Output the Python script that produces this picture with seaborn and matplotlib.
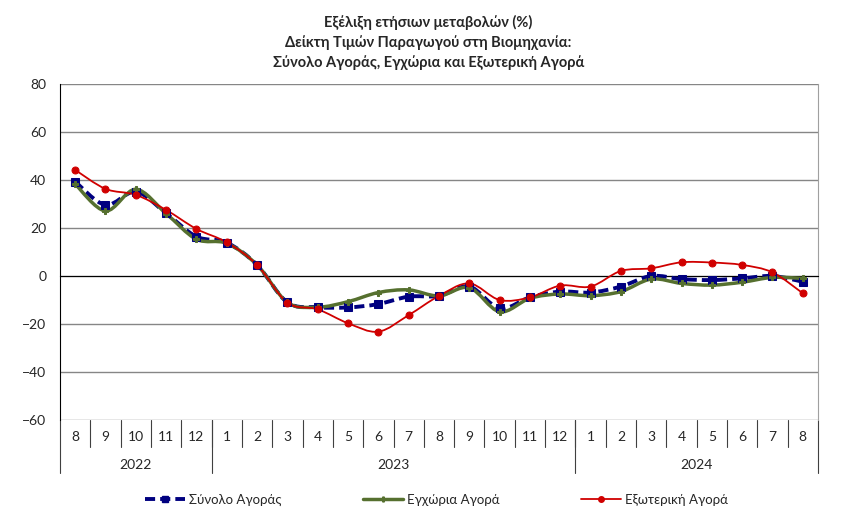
import matplotlib
matplotlib.use("Agg")
import matplotlib.pyplot as plt
import numpy as np
import pandas as pd
import seaborn as sns
from matplotlib.lines import Line2D
from matplotlib.patches import PathPatch
from matplotlib.path import Path
from matplotlib.transforms import blended_transform_factory

# dane
miesiace = [8, 9, 10, 11, 12, 1, 2, 3, 4, 5, 6, 7, 8, 9, 10, 11, 12, 1, 2, 3, 4, 5, 6, 7, 8]
lata = ["2022", "2023", "2024"]
liczba_mies = [5, 12, 8]

synolo = [39.3, 29.6, 35.1, 26.1, 16.4, 13.9, 4.6, -11.0, -13.0, -13.1, -11.7, -8.6,
          -8.3, -4.4, -13.5, -8.9, -6.5, -6.9, -4.4, 0.0, -1.3, -1.7, -1.0, 0.0, -2.4]
egxoria = [38.3, 27.1, 36.1, 26.0, 15.3, 13.6, 4.6, -11.0, -13.0, -10.7, -6.9, -5.8,
           -8.3, -4.9, -14.9, -9.3, -7.5, -8.2, -6.5, -1.3, -3.1, -3.8, -2.6, -0.6, -1.0]
exoteriki = [44.2, 36.3, 33.8, 27.5, 19.6, 14.0, 4.6, -11.1, -13.9, -19.7, -23.2, -16.3,
             -8.3, -3.1, -10.0, -8.9, -4.0, -4.4, 2.1, 3.2, 5.7, 5.6, 4.6, 1.5, -7.2]

nazwy = ["Σύνολο Αγοράς", "Εγχώρια Αγορά", "Εξωτερική Αγορά"]
kolory = ["#000080", "#56702F", "#D00000"]

sns.set_style("white")
plt.rcParams["font.family"] = ["Lato", "Noto Sans", "DejaVu Sans"]

idx = np.arange(len(miesiace))
df = pd.DataFrame({"idx": idx, nazwy[0]: synolo, nazwy[1]: egxoria, nazwy[2]: exoteriki})

fig = plt.figure(figsize=(8.43, 5.21), dpi=100)
ax = fig.add_axes([0.0712, 0.1939, 0.8991, 0.6449])


def gladka_sciezka(xs, ys):
    # krzywa Beziera jak w Excelu (smoothed line)
    pts = np.column_stack([xs, ys]).astype(float)
    n = len(pts)
    verts = [pts[0]]
    codes = [Path.MOVETO]
    for i in range(n - 1):
        p0 = pts[max(i - 1, 0)]
        p1 = pts[i]
        p2 = pts[i + 1]
        p3 = pts[min(i + 2, n - 1)]
        c1 = p1 + (p2 - p0) / 6
        c2 = p2 - (p3 - p1) / 6
        verts += [c1, c2, p2]
        codes += [Path.CURVE4] * 3
    return Path(verts, codes)


style_lin = [
    dict(lw=2.8, ls=(0, (2.6, 1.3)), marker="s", ms=5.5),
    dict(lw=2.5, ls="-", marker="P", ms=4.5),
    dict(lw=1.3, ls="-", marker="o", ms=5),
]

for nazwa, kol, st in zip(nazwy, kolory, style_lin):
    sciezka = gladka_sciezka(df["idx"], df[nazwa])
    ax.add_patch(PathPatch(sciezka, facecolor="none", edgecolor=kol, lw=st["lw"],
                           linestyle=st["ls"], zorder=3))
    sns.lineplot(data=df, x="idx", y=nazwa, ax=ax, color=kol, marker=st["marker"],
                 markersize=st["ms"], markeredgecolor=kol, linestyle="", zorder=4)

ax.set_xlim(-0.5, len(miesiace) - 0.5)
ax.set_ylim(-60, 80)
ax.set_yticks(np.arange(-60, 81, 20))
ax.yaxis.grid(True, color="#868686", lw=1)
ax.set_xlabel("")
ax.set_ylabel("")
ax.tick_params(axis="y", length=0, pad=10, labelsize=10)

ax.spines["right"].set_color("#A0A0A0")
ax.spines["top"].set_visible(False)
ax.spines["left"].set_color("black")
ax.spines["bottom"].set_position(("data", 0))
ax.spines["bottom"].set_color("black")
ax.set_xticks(idx[:-1] + 0.5)
ax.set_xticklabels([])
ax.tick_params(axis="x", direction="inout", length=8, color="#909090")

# etykiety osi x (miesiace i lata)
tr = blended_transform_factory(ax.transData, ax.transAxes)
for i, m in enumerate(miesiace):
    ax.text(i, -0.052, str(m), transform=tr, ha="center", va="center", fontsize=10)
for b in idx[:-1] + 0.5:
    ax.plot([b, b], [0, -0.08], transform=tr, color="#404040", lw=0.8, clip_on=False)

granice = np.concatenate([[0], np.cumsum(liczba_mies)]) - 0.5
for rok, a, b in zip(lata, granice[:-1], granice[1:]):
    ax.text((a + b) / 2, -0.135, rok, transform=tr, ha="center", va="center", fontsize=10)
for g in granice:
    ax.plot([g, g], [0, -0.158], transform=tr, color="#404040", lw=0.8, clip_on=False)

fig.text(0.508, 0.972, "Εξέλιξη ετήσιων μεταβολών (%)\nΔείκτη Τιμών Παραγωγού στη Βιομηχανία:\n"
         "Σύνολο Αγοράς, Εγχώρια και Εξωτερική Αγορά",
         ha="center", va="top", fontsize=10.5, fontweight="bold", linespacing=1.45)

uchwyty = [Line2D([], [], color=k, lw=st["lw"], ls=st["ls"], marker=st["marker"],
                  markersize=st["ms"] - 1) for k, st in zip(kolory, style_lin)]
fig.legend(uchwyty, nazwy, loc="center", bbox_to_anchor=(0.518, 0.04), ncol=3,
           frameon=False, fontsize=9.5, columnspacing=6.2, handlelength=3.0, handletextpad=0.3)

fig.savefig("out.png", dpi=100)
